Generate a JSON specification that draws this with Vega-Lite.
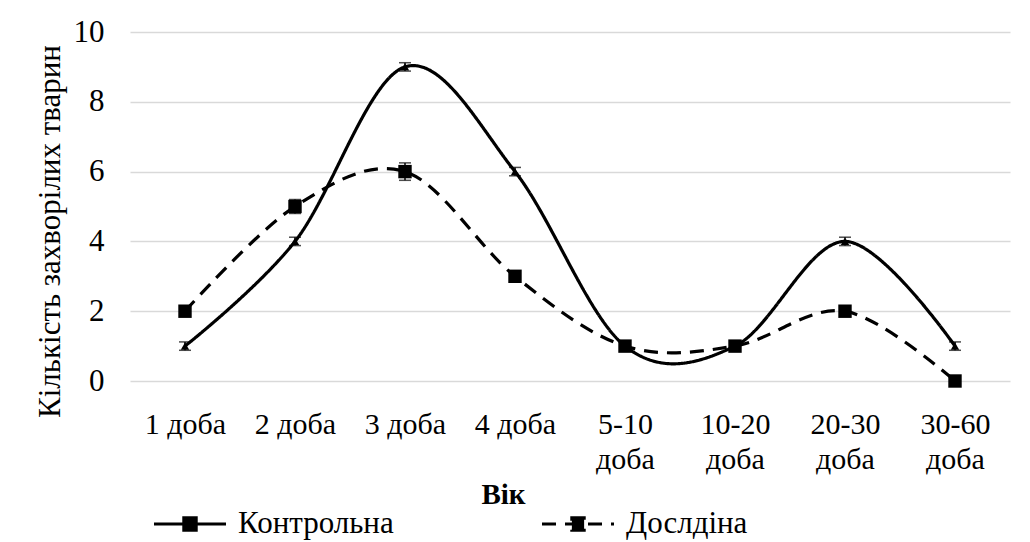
{
  "$schema": "https://vega.github.io/schema/vega-lite/v6.json",
  "width": 880,
  "height": 349,
  "autosize": {"type": "none"},
  "padding": {"left": 130, "top": 32, "right": 20, "bottom": 161},
  "background": "white",
  "config": {
    "font": "Liberation Serif",
    "view": {"stroke": null},
    "axis": {"labelFont": "Liberation Serif", "titleFont": "Liberation Serif", "labelColor": "black", "titleColor": "black"},
    "legend": {"labelFont": "Liberation Serif"}
  },
  "data": {
    "values": [
      {"age": "1 доба", "series": "Контрольна", "value": 1, "lo": 0.88, "hi": 1.12},
      {"age": "2 доба", "series": "Контрольна", "value": 4, "lo": 3.88, "hi": 4.12},
      {"age": "3 доба", "series": "Контрольна", "value": 9, "lo": 8.88, "hi": 9.12},
      {"age": "4 доба", "series": "Контрольна", "value": 6, "lo": 5.88, "hi": 6.12},
      {"age": "5-10 доба", "series": "Контрольна", "value": 1, "lo": 0.88, "hi": 1.12},
      {"age": "10-20 доба", "series": "Контрольна", "value": 1, "lo": 0.88, "hi": 1.12},
      {"age": "20-30 доба", "series": "Контрольна", "value": 4, "lo": 3.88, "hi": 4.12},
      {"age": "30-60 доба", "series": "Контрольна", "value": 1, "lo": 0.88, "hi": 1.12},
      {"age": "1 доба", "series": "Дослдіна", "value": 2, "lo": 1.85, "hi": 2.15},
      {"age": "2 доба", "series": "Дослдіна", "value": 5, "lo": 4.8, "hi": 5.2},
      {"age": "3 доба", "series": "Дослдіна", "value": 6, "lo": 5.75, "hi": 6.25},
      {"age": "4 доба", "series": "Дослдіна", "value": 3, "lo": 2.85, "hi": 3.15},
      {"age": "5-10 доба", "series": "Дослдіна", "value": 1, "lo": 0.85, "hi": 1.15},
      {"age": "10-20 доба", "series": "Дослдіна", "value": 1, "lo": 0.85, "hi": 1.15},
      {"age": "20-30 доба", "series": "Дослдіна", "value": 2, "lo": 1.85, "hi": 2.15},
      {"age": "30-60 доба", "series": "Дослдіна", "value": 0, "lo": -0.12, "hi": 0.12}
    ]
  },
  "encoding": {
    "x": {
      "field": "age",
      "type": "nominal",
      "sort": null,
      "scale": {"type": "point", "padding": 0.5},
      "axis": {
        "title": "Вік",
        "titleFontSize": 29,
        "titleFontWeight": "bold",
        "titleX": 373,
        "titleY": 122,
        "titleBaseline": "alphabetic",
        "labelAngle": 0,
        "labelFontSize": 30,
        "labelPadding": 28,
        "labelLineHeight": 35,
        "labelExpr": "length(datum.label) > 6 ? split(datum.label, ' ') : datum.label",
        "ticks": false,
        "domain": false,
        "grid": false
      }
    },
    "y": {
      "field": "value",
      "type": "quantitative",
      "scale": {"domain": [0, 10], "nice": false},
      "axis": {
        "title": "Кількість захворілих  тварин",
        "titleFontSize": 31,
        "titleFontWeight": "normal",
        "titleX": -80,
        "titleY": 199,
        "titleBaseline": "middle",
        "values": [0, 2, 4, 6, 8, 10],
        "labelFontSize": 31,
        "labelPadding": 26,
        "ticks": false,
        "domain": false,
        "grid": true,
        "gridColor": "#d9d9d9",
        "gridWidth": 1.5
      }
    }
  },
  "layer": [
    {
      "mark": {"type": "line", "interpolate": "cardinal", "color": "black", "strokeWidth": 3.2},
      "encoding": {
        "strokeDash": {
          "field": "series",
          "type": "nominal",
          "scale": {"domain": ["Контрольна", "Дослдіна"], "range": [[1, 0], [14, 9]]},
          "legend": {
            "title": null,
            "orient": "none",
            "direction": "horizontal",
            "legendX": 22,
            "legendY": 454,
            "padding": 0,
            "symbolSize": 5184,
            "symbolType": "M-1,0L1,0M-0.17,-0.17L0.17,-0.17L0.17,0.17L-0.17,0.17Z",
            "symbolStrokeWidth": 3.2,
            "symbolStrokeColor": "black",
            "symbolFillColor": "black",
            "labelFontSize": 31,
            "labelColor": "black",
            "labelOffset": 10,
            "columnPadding": 141
          }
        }
      }
    },
    {
      "mark": {"type": "rule", "color": "black", "strokeWidth": 1.5},
      "encoding": {"y": {"field": "lo", "type": "quantitative"}, "y2": {"field": "hi"}}
    },
    {
      "mark": {"type": "tick", "color": "black", "thickness": 1.5, "size": 12, "orient": "horizontal"},
      "encoding": {"y": {"field": "hi", "type": "quantitative"}}
    },
    {
      "mark": {"type": "tick", "color": "black", "thickness": 1.5, "size": 12, "orient": "horizontal"},
      "encoding": {"y": {"field": "lo", "type": "quantitative"}}
    },
    {
      "transform": [{"filter": "datum.series === 'Контрольна'"}],
      "mark": {"type": "point", "filled": true, "color": "black", "opacity": 1, "shape": "triangle-up", "size": 70}
    },
    {
      "transform": [{"filter": "datum.series === 'Дослдіна'"}],
      "mark": {"type": "point", "filled": true, "color": "black", "opacity": 1, "shape": "square", "size": 180}
    }
  ]
}
